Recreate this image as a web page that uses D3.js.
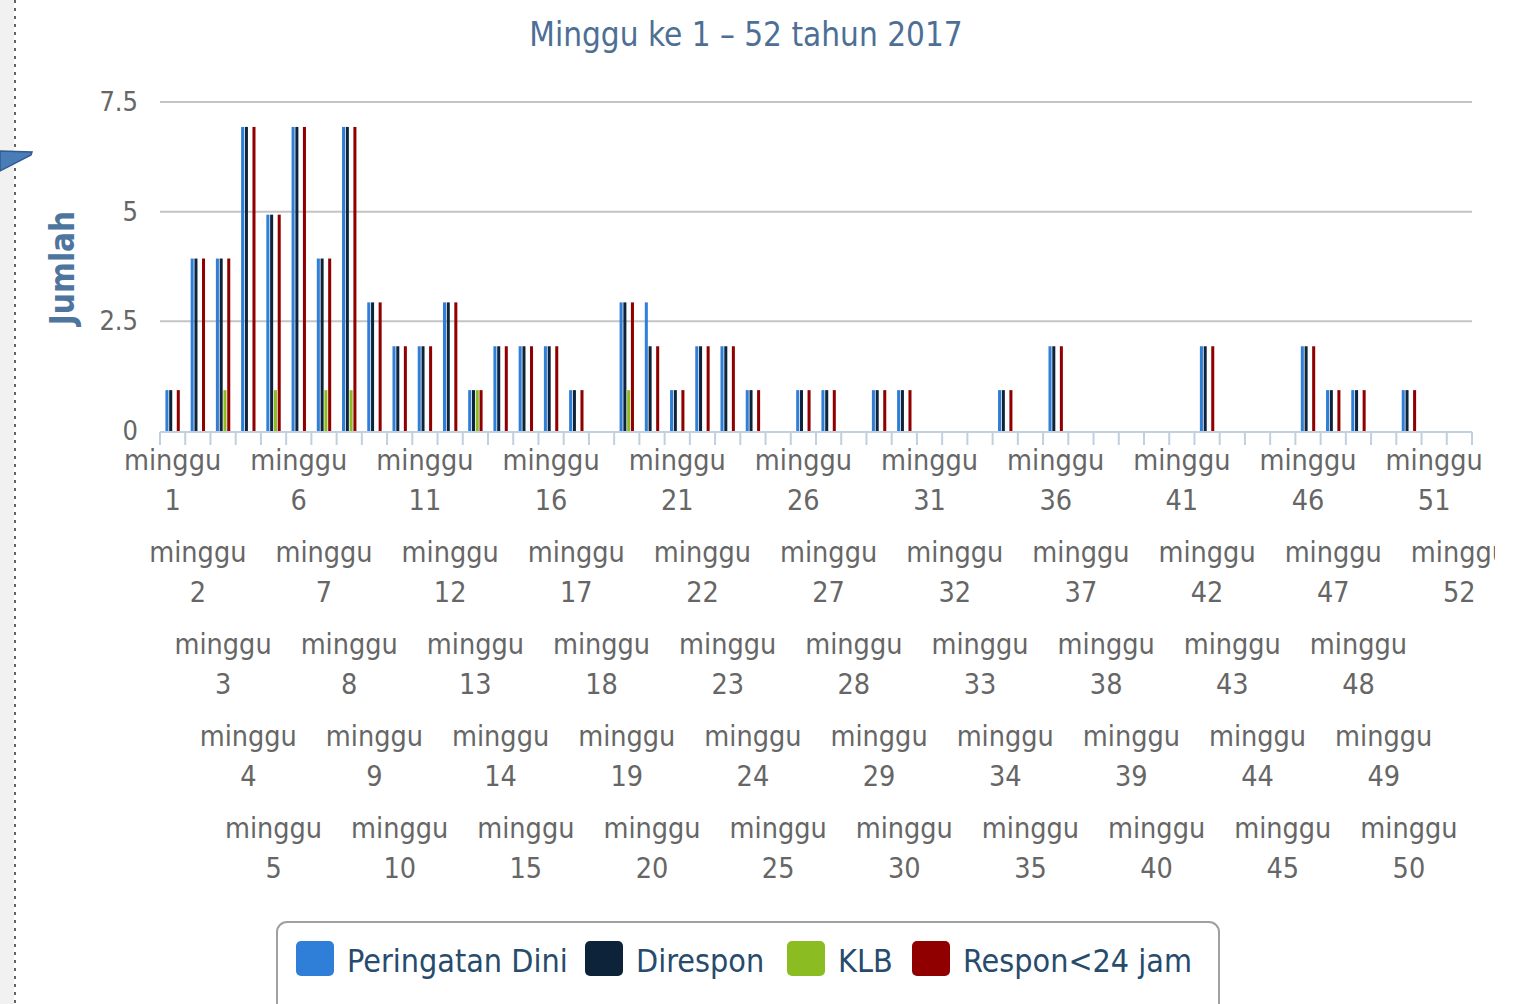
<!DOCTYPE html>
<html>
<head>
    <title>Minggu ke 1 - 52 tahun 2017</title>
    <script src="https://d3js.org/d3.v7.min.js"></script>
    <style>
        body { margin: 0; background: #fff; }
        svg { display: block; font-family: "DejaVu Sans Condensed", "DejaVu Sans", sans-serif; }
        .grid line { stroke: #c4c4c4; stroke-width: 2px; }
        .xlabel { fill: #666; font-size: 28.5px; }
        .ylabel { fill: #666; font-size: 27px; }
        .legend text { fill: #274b6d; font-size: 32px; }
    </style>
</head>
<body>
    <svg width="1522" height="1004"></svg>
    <script>
        const weeks = d3.range(1, 53);
        const seriesNames = ["Peringatan Dini", "Direspon", "KLB", "Respon<24 jam"];
        const colors = ["#2f7ed8", "#0d233a", "#8bbc21", "#910000"];

        // one value per week (1..52)
        const peringatanDini = [1,4,4,7,5,7,4,7,3,2, 2,3,1,2,2,2,1,0,3,3, 1,2,2,1,0,1,1,0,1,1, 0,0,0,1,0,2,0,0,0,0, 0,2,0,0,0,2,1,1,0,1, 0,0];
        const direspon       = [1,4,4,7,5,7,4,7,3,2, 2,3,1,2,2,2,1,0,3,2, 1,2,2,1,0,1,1,0,1,1, 0,0,0,1,0,2,0,0,0,0, 0,2,0,0,0,2,1,1,0,1, 0,0];
        const klb            = [0,0,1,0,1,0,1,1,0,0, 0,0,1,0,0,0,0,0,1,0, 0,0,0,0,0,0,0,0,0,0, 0,0,0,0,0,0,0,0,0,0, 0,0,0,0,0,0,0,0,0,0, 0,0];
        const respon24       = [1,4,4,7,5,7,4,7,3,2, 2,3,1,2,2,2,1,0,3,2, 1,2,2,1,0,1,1,0,1,1, 0,0,0,1,0,2,0,0,0,0, 0,2,0,0,0,2,1,1,0,1, 0,0];
        const seriesValues = [peringatanDini, direspon, klb, respon24];

        const yTicks = [0, 2.5, 5, 7.5];

        const svg = d3.select("svg");

        // left page strip with dotted rule and arrow
        svg.append("rect").attr("x", 0).attr("y", 0).attr("width", 14).attr("height", 1004).attr("fill", "#f1f1f1");
        svg.append("line").attr("x1", 15).attr("x2", 15).attr("y1", 0).attr("y2", 1004)
            .attr("stroke", "#666").attr("stroke-width", 2).attr("stroke-dasharray", "3,5");
        svg.append("path").attr("d", "M0,151 L32,152 L31,155 L0,171 Z")
            .attr("fill", "#4a7cb8").attr("stroke", "#2f5c8f").attr("stroke-width", 1.5);

        const plotLeft = 160, plotRight = 1472, plotBottom = 431, plotTop = 102;

        const x = d3.scaleBand().domain(weeks).range([plotLeft, plotRight]);
        const bw = x.bandwidth();
        const x1 = d3.scaleBand().domain(d3.range(seriesNames.length))
            .range([bw * 0.2, bw * 0.8]).paddingInner(0.2).paddingOuter(0.1);
        const y = d3.scaleLinear().domain([0, 7.5]).range([plotBottom, plotTop]);

        // title
        svg.append("text").attr("x", 746).attr("y", 46).attr("text-anchor", "middle")
            .attr("fill", "#4d6f96").style("font-size", "33px").text("Minggu ke 1 – 52 tahun 2017");

        // grid
        svg.append("g").attr("class", "grid").selectAll("line").data(yTicks.filter(d => d > 0)).join("line")
            .attr("x1", plotLeft).attr("x2", plotRight).attr("y1", d => y(d)).attr("y2", d => y(d));

        // y labels
        svg.append("g").selectAll("text").data(yTicks).join("text").attr("class", "ylabel")
            .attr("x", 138).attr("y", d => y(d) + 9).attr("text-anchor", "end")
            .text(d => d);

        svg.append("text").attr("transform", "translate(74,268) rotate(-90)")
            .attr("text-anchor", "middle").attr("fill", "#4d759e")
            .style("font-size", "33px").style("font-weight", "bold").text("Jumlah");

        // bars
        const groups = svg.append("g").selectAll("g").data(weeks).join("g")
            .attr("transform", d => `translate(${x(d)},0)`);
        groups.selectAll("rect")
            .data((w, i) => seriesValues.map((vals, s) => ({s, v: vals[i]})).filter(d => d.v > 0))
            .join("rect")
            .attr("x", d => x1(d.s)).attr("width", x1.bandwidth())
            .attr("y", d => y(d.v) + 3).attr("height", d => plotBottom - y(d.v) - 3)
            .attr("fill", d => colors[d.s]);

        // x axis
        const axis = svg.append("g");
        axis.append("line").attr("x1", plotLeft).attr("x2", plotRight).attr("y1", plotBottom + 1).attr("y2", plotBottom + 1)
            .attr("stroke", "#c0d0e0").attr("stroke-width", 2);
        axis.selectAll(".tick").data(weeks.concat([53])).join("line")
            .attr("x1", d => d === 53 ? plotRight : x(d)).attr("x2", d => d === 53 ? plotRight : x(d))
            .attr("y1", plotBottom + 1).attr("y2", plotBottom + 14)
            .attr("stroke", "#c0d0e0").attr("stroke-width", 2);

        svg.append("clipPath").attr("id", "clipLabels").append("rect")
            .attr("x", 0).attr("y", 0).attr("width", 1495).attr("height", 1004);
        const lab = svg.append("g").attr("clip-path", "url(#clipLabels)")
            .selectAll("text").data(weeks).join("text").attr("class", "xlabel")
            .attr("text-anchor", "middle");
        lab.append("tspan").attr("x", d => x(d) + bw / 2).attr("y", (d, i) => 470 + (i % 5) * 92).text("minggu");
        lab.append("tspan").attr("x", d => x(d) + bw / 2).attr("y", (d, i) => 510 + (i % 5) * 92).text(d => d);

        // legend
        const legend = svg.append("g").attr("class", "legend");
        legend.append("rect").attr("x", 277).attr("y", 922).attr("width", 942).attr("height", 100)
            .attr("rx", 10).attr("fill", "#fff").attr("stroke", "#a0a0a0").attr("stroke-width", 2);
        const legendX = [296, 585, 787, 912];
        const li = legend.selectAll("g").data(seriesNames).join("g")
            .attr("transform", (d, i) => `translate(${legendX[i]},941)`);
        li.append("rect").attr("width", 38).attr("height", 35).attr("rx", 5).attr("fill", (d, i) => colors[i]);
        li.append("text").attr("x", 51).attr("y", 31).text(d => d);
    </script>
</body>
</html>
